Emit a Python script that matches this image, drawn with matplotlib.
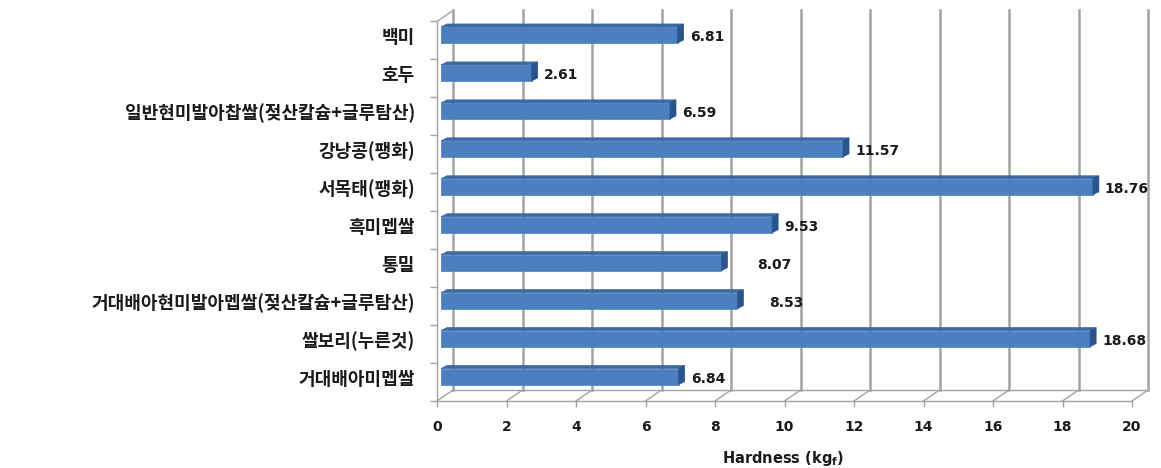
import matplotlib.pyplot as plt
from matplotlib.lines import Line2D
from matplotlib.patches import Polygon
from matplotlib.transforms import IdentityTransform, offset_copy
import numpy as np

plt.rcParams['font.family'] = ['Noto Sans CJK KR', 'DejaVu Sans']

# 시료별 경도 (kgf), 위에서 아래 순서
samples = ['백미', '호두', '일반현미발아찹쌀(젖산칼슘+글루탐산)', '강낭콩(팽화)',
           '서목태(팽화)', '흑미멥쌀', '통밀', '거대배아현미발아멥쌀(젖산칼슘+글루탐산)',
           '쌀보리(누른것)', '거대배아미멥쌀']
hardness = [6.81, 2.61, 6.59, 11.57, 18.76, 9.53, 8.07, 8.53, 18.68, 6.84]
x_ticks = list(range(0, 21, 2))

# 값 라벨을 오른쪽으로 더 밀어낼 항목 (픽셀)
label_shift = {'통밀': 24, '거대배아현미발아멥쌀(젖산칼슘+글루탐산)': 20}

W, H = 1161, 468
fig = plt.figure(figsize=(W / 100, H / 100), dpi=100)
ax = fig.add_axes([437 / W, 67 / H, 695 / W, 379.5 / H])
ax.set_xlim(0, 20)
ax.set_ylim(len(samples) - 0.5, -0.5)

grid_c = '#A3A3A3'
text_c = '#1A1A1A'
num_font = ['DejaVu Sans']
depth = np.array([16, 11])        # 뒷벽까지의 깊이 (픽셀)
bar_front = np.array([4, 5.5])    # 막대 앞면 위치
bar_depth = np.array([6, 3])      # 막대 두께
half_h = 8

ident = IdentityTransform()


def px(x, y):
    return ax.transData.transform((x, y))


def seg(p, q, **kw):
    ax.add_line(Line2D([p[0], q[0]], [p[1], q[1]], transform=ident,
                       clip_on=False, **kw))


y_top, y_bot = -0.5, len(samples) - 0.5

# 뒷벽 눈금선과 바닥
for t in x_ticks:
    seg(px(t, y_bot) + depth, px(t, y_top) + depth, color=grid_c, lw=1.8, zorder=1)
    seg(px(t, y_bot), px(t, y_bot) + depth, color=grid_c, lw=1.0, zorder=1)
seg(px(0, y_bot) + depth, px(20, y_bot) + depth, color=grid_c, lw=1.0, zorder=1)
seg(px(0, y_top), px(0, y_top) + depth, color=grid_c, lw=1.0, zorder=1)

# 3차원 막대
for i, (name, v) in enumerate(zip(samples, hardness)):
    x0 = px(0, i)[0] + bar_front[0]
    x1 = px(v, i)[0] + bar_front[0]
    yc = px(v, i)[1] + bar_front[1]
    top, bot = yc + half_h, yc - half_h
    dx, dy = bar_depth
    faces = [
        ([(x0, bot), (x1, bot), (x1, top), (x0, top)], '#4B7FBF'),
        ([(x0, top), (x1, top), (x1 + dx, top + dy), (x0 + dx, top + dy)], '#3A69A6'),
        ([(x1, bot), (x1, top), (x1 + dx, top + dy), (x1 + dx, bot + dy)], '#2A558C'),
    ]
    for pts, c in faces:
        ax.add_patch(Polygon(pts, closed=True, facecolor=c, edgecolor=c, lw=0.5,
                             transform=ident, clip_on=False, zorder=3))
    tr = offset_copy(ax.transData, fig=fig, x=16 + label_shift.get(name, 0),
                     y=3, units='dots')
    ax.text(v, i, f'{v:.2f}', transform=tr, ha='left', va='center',
            fontsize=10, fontweight='bold', family=num_font, color=text_c)
    tr = offset_copy(ax.transData, fig=fig, x=-22, y=3, units='dots')
    ax.text(0, i, name, transform=tr, ha='right', va='center',
            fontsize=13, fontweight='bold', color=text_c)

# 앞쪽 축선
for side in ['top', 'right']:
    ax.spines[side].set_visible(False)
for side in ['left', 'bottom']:
    ax.spines[side].set_color(grid_c)
    ax.spines[side].set_linewidth(1.0)

ax.set_yticks([])
ax.set_yticks(np.arange(-0.5, len(samples), 1), minor=True)
ax.tick_params(axis='y', which='minor', length=5, color=grid_c, width=1.0)
ax.set_xticks(x_ticks)
ax.set_xticklabels([str(t) for t in x_ticks], family=num_font, fontweight='bold')
ax.tick_params(axis='x', length=4, color=grid_c, width=1.0, pad=10,
               labelsize=10, labelcolor=text_c)
ax.patch.set_visible(False)

fig.text(783 / W, 1 - 458 / H, 'Hardness (kg$_\\mathbf{f}$)', ha='center', va='center',
         fontsize=10.5, fontweight='bold', family=num_font, color=text_c)

fig.savefig('out.png', dpi=100)
